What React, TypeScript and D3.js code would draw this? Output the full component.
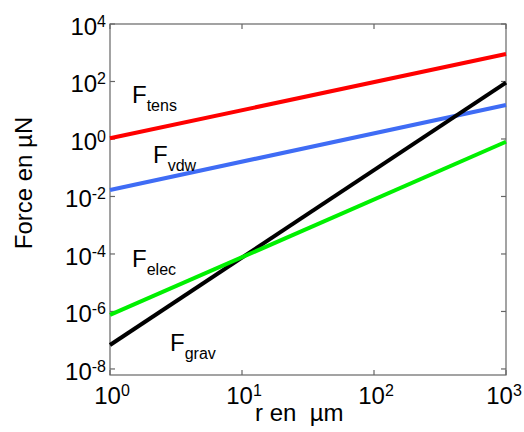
import React from "react";
import * as d3 from "d3";

const xValues = [1, 1000];
const seriesNames = ["tens", "vdw", "elec", "grav"];
const tensValues = [1.06, 906];
const vdwValues = [0.0168, 15.2];
const elecValues = [7.6e-7, 0.8];
const gravValues = [6.8e-8, 91];
const xTickValues = [1, 10, 100, 1000];
const xTickExp = ["0", "1", "2", "3"];
const yTickValues = [1e-8, 1e-6, 1e-4, 1e-2, 1, 1e2, 1e4];
const yTickExp = ["-8", "-6", "-4", "-2", "0", "2", "4"];

const W = 524;
const H = 432;
const left = 110;
const right = 506;
const top = 24;
const bottom = 375;
const font = "'Liberation Sans', Arial, sans-serif";

export default function App() {
  const x = d3.scaleLog().domain([1, 1000]).range([left, right]);
  const y = d3.scaleLog().domain([Math.pow(10, -8.21), 1e4]).range([bottom, top]);
  const line = d3
    .line<[number, number]>()
    .x((d) => x(d[0]))
    .y((d) => y(d[1]));

  const series = [
    { name: seriesNames[0], values: tensValues, color: "#ff0000", lx: 132, ly: 102.7 },
    { name: seriesNames[1], values: vdwValues, color: "#3f6cf5", lx: 153, ly: 162.7 },
    { name: seriesNames[2], values: elecValues, color: "#00f000", lx: 132, ly: 266.7 },
    { name: seriesNames[3], values: gravValues, color: "#000000", lx: 170, ly: 350.7 },
  ];
  const drawOrder = [0, 1, 3, 2];
  const axisColor = "#666";
  const tickLen = 5;

  return (
    <svg width={W} height={H} style={{ position: "absolute", left: 0, top: 0, background: "#fff" }} fontFamily={font}>
      <rect x={0} y={0} width={W} height={H} fill="#fff" />
      <rect x={left} y={top} width={right - left} height={bottom - top} fill="none" stroke={axisColor} strokeWidth={1.2} />
      {xTickValues.map((v, i) => (
        <g key={"xt" + i}>
          <line x1={x(v)} x2={x(v)} y1={bottom} y2={bottom - tickLen} stroke={axisColor} strokeWidth={1.2} />
          <line x1={x(v)} x2={x(v)} y1={top} y2={top + tickLen} stroke={axisColor} strokeWidth={1.2} />
          <text x={Math.min(x(v) + 2, W - 20)} y={404} fontSize={24} textAnchor="middle" fill="#000">
            10<tspan fontSize={16} dy={-8}>{xTickExp[i]}</tspan>
          </text>
        </g>
      ))}
      {yTickValues.map((v, i) => (
        <g key={"yt" + i}>
          <line x1={left} x2={left + tickLen} y1={y(v)} y2={y(v)} stroke={axisColor} strokeWidth={1.2} />
          <line x1={right} x2={right - tickLen} y1={y(v)} y2={y(v)} stroke={axisColor} strokeWidth={1.2} />
          <text x={106} y={y(v) + 11} fontSize={24} textAnchor="end" fill="#000">
            10<tspan fontSize={16} dy={-8}>{yTickExp[i]}</tspan>
          </text>
        </g>
      ))}
      {drawOrder.map((k) => {
        const s = series[k];
        const pts: [number, number][] = xValues.map((xv, j) => [xv, s.values[j]]);
        return (
          <path key={"l" + k} d={line(pts) || ""} fill="none" stroke={s.color} strokeWidth={4} />
        );
      })}
      {series.map((s, k) => (
        <text key={"lab" + k} x={s.lx} y={s.ly} fontSize={24} fill="#000">
          F<tspan fontSize={16} dy={8}>{s.name}</tspan>
        </text>
      ))}
      <text x={255} y={421} fontSize={24} fill="#000" style={{ whiteSpace: "pre" }}>
        {"r en  \u00b5m"}
      </text>
      <text transform={`translate(32,183) rotate(-90)`} fontSize={24} textAnchor="middle" fill="#000">
        {"Force en \u00b5N"}
      </text>
    </svg>
  );
}
